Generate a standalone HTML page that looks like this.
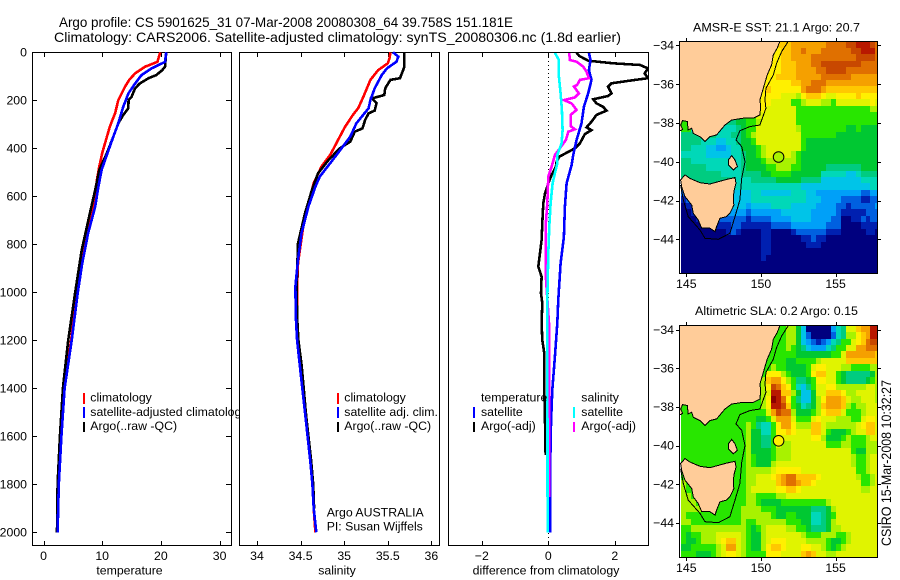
<!DOCTYPE html>
<html lang="en">
<head>
<meta charset="utf-8">
<title>Argo profile chart</title>
<style>
html,body{margin:0;padding:0;background:#fff;}
svg{display:block;font-family:"Liberation Sans",sans-serif;font-size:12.3px;fill:#000;}
.crisp{shape-rendering:crispEdges;}
</style>
</head>
<body>
<svg id="chart" xmlns="http://www.w3.org/2000/svg" width="900" height="580" viewBox="0 0 900 580">
<rect x="0" y="0" width="900" height="580" fill="#fff"/>
<text x="59" y="27" font-size="14" textLength="454" lengthAdjust="spacingAndGlyphs">Argo profile: CS 5901625_31 07-Mar-2008 20080308_64 39.758S 151.181E</text>
<text x="54" y="42" font-size="14" textLength="567" lengthAdjust="spacingAndGlyphs">Climatology: CARS2006. Satellite-adjusted climatology: synTS_20080306.nc (1.8d earlier)</text>

<g id="p1">
<g id="p1m"></g>
<rect class="crisp" x="83" y="393" width="2" height="11" fill="#f00"/>
<rect class="crisp" x="83" y="407" width="2" height="11" fill="#00f"/>
<rect class="crisp" x="83" y="422" width="2" height="10" fill="#000"/>
<text x="90.3" y="401.7">climatology</text>
<text x="90.3" y="416">satellite-adjusted climatology</text>
<text x="90.3" y="430">Argo(..raw -QC)</text>
<text x="129.5" y="574.5" text-anchor="middle">temperature</text>
</g>

<g id="p2">
<g id="p2m"></g>
<rect class="crisp" x="337" y="393" width="2" height="11" fill="#f00"/>
<rect class="crisp" x="337" y="407" width="2" height="11" fill="#00f"/>
<rect class="crisp" x="337" y="422" width="2" height="10" fill="#000"/>
<text x="344.3" y="401.7">climatology</text>
<text x="344.3" y="416">satellite adj. clim.</text>
<text x="344.3" y="430">Argo(..raw -QC)</text>
<text x="326.7" y="516.7">Argo AUSTRALIA</text>
<text x="326.7" y="530.7">PI: Susan Wijffels</text>
<text x="337" y="574.5" text-anchor="middle">salinity</text>
</g>

<g id="p3">
<g id="p3m"></g>
<text x="481" y="401.7">temperature</text>
<text x="481" y="416">satellite</text>
<text x="481" y="430">Argo(-adj)</text>
<rect class="crisp" x="473" y="407" width="2" height="11" fill="#00f"/>
<rect class="crisp" x="473" y="422" width="2" height="10" fill="#000"/>
<text x="581.3" y="401.7">salinity</text>
<text x="581.3" y="416">satellite</text>
<text x="581.3" y="430">Argo(-adj)</text>
<rect class="crisp" x="573" y="407" width="2" height="11" fill="#0ff"/>
<rect class="crisp" x="573" y="422" width="2" height="10" fill="#f0f"/>
<text x="546" y="574.5" text-anchor="middle">difference from climatology</text>
</g>

<g id="m1"></g>
<g id="m2"></g>
<text x="693" y="31.7" textLength="167" lengthAdjust="spacingAndGlyphs">AMSR-E SST: 21.1 Argo: 20.7</text>
<text x="695" y="315" textLength="163" lengthAdjust="spacingAndGlyphs">Altimetric SLA: 0.2 Argo: 0.15</text>
<text transform="translate(891,546) rotate(-90)" font-size="14" textLength="166" lengthAdjust="spacingAndGlyphs">CSIRO 15-Mar-2008 10:32:27</text>
</svg>
<script>
// ---------- profile axis ticks ----------
const depthTicks = [0,200,400,600,800,1000,1200,1400,1600,1800,2000];
const tempTicks = [0,10,20,30];
const salTicks = [34,34.5,35,35.5,36];
const diffTicks = [-2,0,2];
const salTickLabels = ['34','34.5','35','35.5','36'];
const diffTickLabels = ['\u22122','0','2'];

// ---------- temperature profiles ----------
const climTDepth = [0,40,60,88,115,143,199,254,310,365,420,476,532,615,754,893,1000,1200,1400,1600,1800,2000];
const climT = [19.9,19.4,17.3,15.6,14.6,13.9,12.75,12.2,11.3,10.65,10,9.5,9.1,8.7,7.5,6.4,5.7,4.7,3.55,3.04,2.5,2.3];
const satTDepth = [0,40,67,95,130,170,226,296,351,420,490,560,643,754,880,1000,1200,1400,1600,1800,2000];
const satT = [20.9,20.7,18.4,16.7,15.6,14.5,13.6,12.75,11.9,10.9,9.9,9.35,8.8,7.6,6.6,5.85,4.8,3.6,3.05,2.6,2.4];
const argoTDepth = [0,60,75,95,108,130,150,185,199,233,261,296,351,420,490,574,670,824,1000,1200,1400,1600,1800,2000];
const argoT = [20.9,20.7,20.2,19.2,17.9,16.4,15.6,15,14.5,14.45,13.6,12.75,11.9,10.8,9.5,8.8,7.9,6.5,5.4,4.2,3.3,2.8,2.4,2.3];

// ---------- salinity profiles ----------
const climSDepth = [0,25,46,74,115,185,233,261,310,365,428,476,546,629,726,879,976,1100,1200,1300,1400,1500,1600,1700,1800,1900,2000];
const climS = [35.53,35.52,35.5,35.39,35.3,35.22,35.16,35.1,35.01,34.93,34.84,34.74,34.65,34.59,34.53,34.47,34.46,34.46,34.465,34.5,34.525,34.55,34.58,34.61,34.635,34.65,34.67];
const satSDepth = [0,18,39,67,95,150,199,233,296,351,400,462,518,560,643,754,865,976,1100,1200,1300,1400,1500,1600,1700,1800,1900,2000];
const satS = [35.56,35.62,35.6,35.49,35.43,35.35,35.3,35.28,35.14,35.07,34.97,34.84,34.72,34.67,34.59,34.51,34.47,34.44,34.445,34.46,34.49,34.52,34.55,34.58,34.61,34.635,34.65,34.68];
const argoSDepth = [0,60,80,108,115,150,178,192,212,243,254,282,317,331,372,400,449,504,574,671,796,976,1100,1200,1300,1400,1500,1600,1700,1800,1900];
const argoS = [35.69,35.69,35.67,35.64,35.53,35.47,35.46,35.32,35.37,35.35,35.28,35.24,35.21,35.12,35.07,34.95,34.82,34.7,34.63,34.55,34.47,34.455,34.46,34.475,34.51,34.535,34.56,34.59,34.62,34.645,34.655];

// ---------- difference-from-climatology profiles ----------
const diffArgoTDepth = [2,15,35,46,53,67,88,108,118,129,143,171,182,196,213,227,243,261,289,313,324,341,379,400,435,456,477,511,546,588,629,685,782,893,935,1004,1046,1129,1199,1254,1407,1532,1678];
const diffArgoT = [0.85,0.93,1.2,1.95,2.76,3.0,2.9,3.0,2.46,1.9,1.8,1.9,1.8,1.35,1.45,1.65,1.75,1.45,1.3,1.15,1.3,1.1,0.95,0.8,0.33,0.25,0.23,0.1,0,-0.1,-0.15,-0.17,-0.2,-0.3,-0.2,-0.22,-0.18,-0.2,-0.18,-0.12,-0.12,-0.1,-0.08];
const diffSatTDepth = [2,32,74,115,171,227,296,365,428,470,546,643,768,879,1029,1129,1268,1407,1546,1768,2000];
const diffSatT = [1.22,1.27,1.22,1.3,1.2,1.07,1,0.85,0.75,0.7,0.55,0.5,0.47,0.37,0.3,0.27,0.2,0.12,0.08,0.05,0.05];
const diffSatSDepth = [2,32,101,171,240,324,379,428,463,504,546,629,726,837,1029,2000];
const diffSatS = [0.2,0.32,0.32,0.37,0.41,0.43,0.4,0.27,0.27,0.2,0.13,0.07,0.03,0,-0.03,-0.02];
const diffArgoSDepth = [2,32,39,60,81,108,115,136,143,171,188,199,213,240,261,307,321,331,365,400,428,477,518,629,726,921,1129,1268,1407,1546,1852];
const diffArgoS = [0.63,0.65,0.85,1.05,1.15,1.22,0.95,0.87,0.77,0.92,0.8,0.47,0.7,0.85,0.67,0.67,0.8,0.6,0.53,0.35,0.2,0.1,0,-0.03,-0.08,-0.08,0.02,0.03,0.03,0.02,0.03];

// ---------- map data ----------
const lonTicks = [145,150,155];
const latTicks = [-34,-36,-38,-40,-42,-44];
const floatLon = 151.181;
const floatLat = -39.758;
const floatSstLevel = 9;
const floatSlaLevel = 11;
const colorScale = ['#00007f','#0020b0','#0060e0','#00a0f8','#00c4e8','#00d8b8','#00cc80','#00c832','#28e600','#a8f200','#e0f400','#fff000','#ffc800','#f5a000','#e07000','#c84800','#b81800','#8c0000'];

// colour-scale levels, 36 rows x 40 columns; land polygons are painted over the coastal cells
const sstLevels = [
[12,12,12,12,12,12,12,12,12,12,12,12,12,12,12,12,12,12,12,12,12,12,13,13,13,13,13,13,13,14,14,14,14,15,15,16,16,16,15,14],
[11,11,11,11,11,11,11,11,11,11,11,11,11,11,11,11,11,11,11,11,12,12,13,13,14,13,13,13,14,14,14,14,14,14,15,15,16,16,16,14],
[11,11,11,11,11,11,11,11,11,11,11,11,11,11,11,11,11,11,11,11,12,12,13,13,13,13,14,14,14,14,14,14,14,14,14,15,15,15,15,14],
[11,11,11,11,11,11,11,11,11,11,11,11,11,11,11,11,11,11,11,11,12,12,12,13,13,13,14,14,15,15,15,15,15,15,15,15,14,14,14,14],
[11,11,11,11,11,11,11,11,11,11,11,11,11,11,11,11,11,11,11,11,12,12,12,13,13,13,13,14,14,15,15,15,15,14,14,14,14,14,14,14],
[11,11,11,11,11,11,11,11,11,11,11,11,11,11,11,11,11,11,11,12,12,12,12,13,13,13,13,13,14,14,14,14,14,14,13,13,13,13,13,13],
[11,11,11,11,11,11,11,11,11,11,11,11,11,11,11,11,11,11,11,11,11,11,12,12,13,13,14,14,14,13,13,13,13,13,13,13,13,13,13,13],
[11,11,11,11,11,11,11,11,11,11,11,11,11,11,11,11,11,12,11,11,11,11,11,11,13,14,14,14,13,12,12,12,12,12,12,12,12,12,12,12],
[10,10,10,10,10,10,10,10,10,10,10,10,10,10,10,10,11,11,11,11,10,10,10,9,11,12,12,12,11,10,10,11,11,11,11,12,11,11,11,11],
[10,10,10,10,10,10,10,10,10,10,10,10,10,10,10,10,11,11,10,10,10,10,8,8,9,10,10,10,9,9,8,10,10,10,10,10,10,10,11,10],
[10,10,10,10,10,10,10,10,10,10,10,10,10,10,10,10,11,10,10,10,10,10,10,8,8,8,8,8,8,8,8,8,8,8,8,8,8,8,9,9],
[8,8,8,8,8,8,8,8,8,8,8,8,8,8,8,10,10,10,10,10,10,10,10,8,8,8,8,8,8,8,8,8,8,8,8,8,8,8,8,8],
[8,8,6,6,6,6,6,6,6,6,6,7,7,8,8,9,10,10,10,10,10,10,10,8,8,8,8,8,8,8,8,8,8,8,8,8,8,8,8,8],
[8,8,5,5,5,5,5,5,5,5,5,6,7,8,8,10,10,10,10,10,10,10,10,9,8,8,8,8,8,8,8,8,8,7,7,8,7,7,7,7],
[6,6,6,6,6,6,6,5,5,5,6,6,7,8,9,10,10,10,10,10,10,10,10,10,8,8,8,8,8,8,8,7,7,7,7,7,7,7,7,7],
[6,6,6,6,5,5,5,4,4,5,5,6,7,7,8,10,10,10,10,10,10,10,10,10,8,7,7,7,7,7,7,7,7,7,7,7,7,7,7,7],
[6,6,5,5,5,4,4,3,3,4,5,5,7,7,7,8,9,10,10,10,10,10,10,10,8,7,7,7,7,7,7,7,7,7,7,7,7,7,7,7],
[5,5,5,5,5,4,4,4,4,4,5,5,6,7,7,8,9,10,10,10,10,10,9,8,7,7,7,7,7,7,7,7,7,7,7,7,7,7,7,7],
[6,6,5,5,5,5,5,5,5,5,5,5,6,7,7,7,8,9,9,9,9,9,9,8,7,7,7,7,7,7,7,7,7,7,7,7,7,7,7,7],
[6,6,6,6,6,5,5,5,5,5,5,5,6,7,7,7,7,8,8,9,9,9,8,8,7,7,7,7,7,6,6,6,6,6,6,6,7,7,7,7],
[6,6,6,6,6,6,6,6,5,5,5,5,6,6,6,6,7,7,8,8,8,8,7,7,7,7,7,7,5,5,5,5,5,4,4,5,6,6,6,6],
[6,6,6,6,6,6,6,6,6,6,6,5,5,5,6,6,6,6,6,7,7,7,7,7,6,6,6,6,4,4,4,4,4,4,4,4,5,5,5,5],
[5,5,5,5,5,5,5,5,5,5,5,5,5,5,5,5,5,5,5,5,5,5,5,5,4,4,4,4,4,4,4,4,4,4,4,4,4,4,5,5],
[2,4,4,4,4,4,4,4,4,4,4,4,4,4,5,5,4,4,4,4,4,4,5,5,5,4,4,3,3,3,3,3,3,3,3,3,2,2,3,3],
[1,2,4,4,4,4,4,4,4,4,4,4,4,4,5,5,5,5,5,5,5,5,5,5,5,4,4,4,3,3,3,3,2,2,2,2,1,1,2,2],
[0,1,1,3,3,3,3,4,4,4,4,4,4,3,4,4,4,4,5,5,5,5,4,4,4,4,4,3,3,3,3,2,2,1,2,2,2,2,2,3],
[0,0,1,1,3,3,3,3,3,3,3,3,3,2,3,3,3,3,3,3,4,4,4,4,4,4,3,3,3,3,3,2,1,1,1,1,1,2,2,2],
[0,0,0,1,1,2,2,2,2,2,2,2,2,1,2,2,2,2,3,3,3,3,4,4,4,4,3,3,3,3,2,2,0,0,1,1,2,1,2,2],
[0,0,0,0,0,0,1,1,1,1,2,2,1,1,1,1,1,1,2,2,2,2,3,3,3,3,3,3,3,2,2,2,0,0,0,0,1,1,1,1],
[0,0,0,0,0,0,0,0,0,1,2,1,0,0,0,0,1,1,0,0,0,0,1,2,2,2,2,2,2,1,1,1,0,0,0,0,0,1,1,0],
[0,0,0,0,0,0,0,0,0,0,0,0,0,0,0,0,1,1,0,0,0,0,0,0,1,1,2,1,1,0,0,0,0,0,0,0,0,0,0,0],
[0,0,0,0,0,0,0,0,0,0,0,0,0,0,0,0,1,1,0,0,0,0,0,0,0,1,1,1,0,0,0,0,0,0,0,0,0,0,0,0],
[0,0,0,0,0,0,0,0,0,0,0,0,0,0,0,0,1,1,0,0,0,0,0,0,0,0,0,0,0,0,0,0,0,0,0,0,0,0,0,0],
[0,0,0,0,0,0,0,0,0,0,0,0,0,0,0,0,1,0,0,0,0,0,0,0,0,0,0,0,0,0,0,0,0,0,0,0,0,0,0,0],
[0,0,0,0,0,0,0,0,0,0,0,0,0,0,0,0,0,0,0,0,0,0,0,0,0,0,0,0,0,0,0,0,0,0,0,0,0,0,0,0],
[0,0,0,0,0,0,0,0,0,0,0,0,0,0,0,0,0,0,0,0,0,0,0,0,0,0,0,0,0,0,0,0,0,0,0,0,0,0,0,0]
];
const slaLevels = [
[8,8,8,8,8,8,8,8,8,8,8,8,8,8,8,8,8,8,8,8,8,9,9,7,4,0,0,0,0,0,3,5,6,10,10,12,13,13,16,16],
[8,8,8,8,8,8,8,8,8,8,8,8,8,8,8,8,8,8,8,8,8,9,9,7,4,2,0,0,0,0,2,5,6,9,9,11,12,13,16,16],
[8,8,8,8,8,8,8,8,8,8,8,8,8,8,8,8,8,8,8,8,8,9,9,7,4,3,2,1,2,3,5,6,8,8,10,11,12,14,15,15],
[8,8,8,8,8,8,8,8,8,8,8,8,8,8,8,8,8,8,8,8,8,9,8,7,6,4,3,3,3,5,6,8,8,10,10,13,13,14,14,14],
[8,8,8,8,8,8,8,8,8,8,8,8,8,8,8,8,8,8,8,8,8,8,8,7,7,7,7,7,7,7,8,8,10,13,13,13,13,13,13,12],
[8,8,8,8,8,8,8,8,8,8,8,8,8,8,8,8,8,8,8,8,8,7,7,8,8,8,8,9,10,10,10,10,10,12,12,12,12,12,12,12],
[8,8,8,8,8,8,8,8,8,8,8,8,8,8,8,8,8,8,9,8,8,7,7,7,7,8,10,11,11,10,10,10,9,9,8,8,8,8,9,9],
[8,8,8,8,8,8,8,8,8,8,8,8,8,8,8,8,8,11,11,11,9,8,7,7,7,8,11,12,12,10,10,8,7,6,6,6,6,6,7,9],
[8,8,8,8,8,8,8,8,8,8,8,8,8,8,8,8,9,12,13,13,11,9,8,6,6,7,8,11,11,10,10,8,7,6,6,6,6,7,8,9],
[8,8,8,8,8,8,8,8,8,8,8,8,8,8,8,8,9,11,15,14,12,11,8,5,4,6,8,10,10,11,11,9,9,9,9,9,9,10,10,9],
[8,8,8,8,8,8,8,8,8,8,8,8,8,8,8,8,9,10,16,16,12,12,9,7,4,4,7,10,10,12,12,12,11,9,9,10,10,10,10,9],
[8,8,8,8,8,8,8,8,8,8,8,8,8,8,8,8,9,11,17,16,14,11,8,6,4,4,7,9,11,13,13,13,12,10,9,9,10,10,10,9],
[8,8,8,8,8,8,8,8,8,8,8,8,8,8,8,8,9,11,16,16,15,12,8,7,5,6,7,9,12,13,13,13,12,9,8,9,9,10,10,10],
[8,8,8,8,8,8,8,8,8,8,8,8,8,8,8,8,8,10,13,15,14,14,9,7,7,7,8,9,11,12,12,12,10,8,8,8,9,10,10,10],
[8,8,8,8,8,8,8,8,8,8,8,8,8,8,8,7,7,8,10,13,13,13,10,8,8,8,10,11,10,10,10,9,9,9,8,8,10,11,11,10],
[8,8,8,8,8,8,8,8,8,8,8,8,8,9,8,6,5,5,8,11,13,13,11,9,9,9,12,12,10,9,9,9,9,9,9,10,11,12,12,10],
[8,8,8,8,8,8,8,8,8,8,8,8,8,9,7,7,5,5,8,11,11,12,11,10,10,10,12,12,10,8,7,7,7,8,9,10,10,12,12,10],
[8,8,8,8,8,8,8,8,8,8,8,8,8,9,7,7,6,6,8,10,10,10,10,10,10,10,11,11,9,7,7,7,8,9,8,8,8,9,10,10],
[8,8,8,8,8,8,8,8,8,8,8,8,8,9,7,7,6,6,8,10,9,9,10,10,10,10,10,10,10,8,8,8,9,9,8,8,8,9,9,9],
[8,8,8,8,8,8,8,8,8,8,8,8,8,9,7,7,7,7,8,9,9,9,10,10,10,10,10,10,10,10,10,10,10,10,8,7,7,9,9,9],
[8,8,8,8,8,8,8,8,8,8,8,8,8,9,8,7,7,7,8,9,9,9,10,10,10,10,10,10,10,10,10,10,10,10,9,8,8,9,10,10],
[8,8,8,8,8,8,8,8,8,8,8,8,8,9,8,7,7,7,9,10,10,10,10,10,10,10,10,10,10,10,10,10,10,10,9,8,8,9,10,10],
[8,8,8,8,8,8,8,8,8,8,8,8,8,9,9,9,9,9,10,11,11,11,11,11,10,10,10,10,10,10,10,10,10,10,10,8,8,9,10,10],
[8,8,8,8,8,8,8,8,8,8,8,8,8,9,9,10,10,10,11,12,13,14,14,12,12,12,12,11,10,10,10,10,10,10,10,9,8,8,9,10],
[9,8,8,8,8,8,8,8,8,8,8,8,8,9,9,10,10,10,10,12,13,14,14,13,12,12,11,10,10,10,10,10,10,10,10,10,8,8,9,10],
[9,8,8,8,8,8,8,8,8,8,8,8,8,9,10,10,10,10,10,11,11,12,12,11,10,10,10,10,10,10,10,10,10,10,10,10,9,9,10,10],
[9,9,8,8,8,8,8,8,8,8,8,8,8,9,9,8,8,8,8,9,9,10,10,10,10,10,10,10,10,10,10,10,10,10,10,10,10,10,10,10],
[9,9,9,8,8,8,8,8,8,8,8,8,8,9,9,8,7,7,7,7,8,8,8,8,8,8,8,8,8,9,10,10,10,10,10,10,10,10,10,10],
[9,9,9,9,8,8,8,8,8,8,8,8,9,9,9,9,8,8,8,7,7,7,7,7,7,7,6,6,6,7,9,10,10,10,10,10,10,10,10,10],
[9,8,8,8,8,8,8,8,8,8,8,8,9,9,9,9,9,9,8,7,7,8,8,7,7,7,5,5,6,7,8,10,10,10,10,10,10,10,10,10],
[9,9,8,8,8,8,8,8,8,8,8,8,9,8,8,9,9,9,9,9,9,8,8,8,7,7,5,5,6,7,9,10,10,10,10,10,10,10,10,10],
[8,8,9,9,9,9,9,9,9,9,9,9,9,8,7,8,9,10,10,10,10,9,9,8,8,7,6,6,6,7,9,9,10,10,10,10,10,10,10,10],
[8,7,8,8,9,9,9,10,10,10,10,10,9,8,7,7,9,10,10,10,10,10,10,10,9,8,8,8,9,9,9,8,8,9,10,10,10,10,10,10],
[8,7,7,8,9,9,9,10,11,12,12,10,9,8,7,7,9,10,11,11,11,10,10,10,10,9,9,9,9,8,7,7,8,9,10,10,10,10,10,10],
[7,7,8,8,8,8,8,9,10,13,13,10,9,8,7,7,9,11,12,12,11,10,10,10,11,11,10,10,9,8,7,8,9,10,10,10,10,10,10,10],
[8,8,8,7,7,7,8,9,10,11,11,10,9,8,8,8,8,11,11,11,10,10,10,10,12,13,12,10,10,9,9,10,10,10,10,10,10,10,10,10]
];

// coast outlines in degrees [lon, lat]
const mainlandCoast = [[151.27,-33.79],[151.09,-34.15],[150.83,-34.5],[150.71,-35.01],[150.42,-35.53],[150.16,-36.22],[149.93,-36.82],[149.98,-37.16],[149.93,-37.59],[149.49,-37.76],[148.82,-37.76],[148.04,-37.85],[147.59,-38.11],[147.03,-38.62],[146.58,-38.71],[146.25,-38.97],[145.92,-38.71],[145.47,-38.54],[145.36,-38.28],[145.13,-38.36],[145.07,-37.93],[144.75,-37.88],[144.62,-38.11],[144.75,-38.33],[144.62,-38.4],[144.49,-38.4],[144.49,-33.79]];
const tasmaniaCoast = [[144.62,-40.94],[144.91,-40.68],[145.25,-40.86],[145.92,-41.08],[146.58,-41.15],[147.14,-41.03],[147.7,-40.91],[148.26,-40.82],[148.33,-41.11],[148.19,-41.54],[148.15,-41.97],[148.19,-42.23],[147.92,-42.66],[147.7,-42.83],[147.25,-42.92],[147.03,-43.35],[146.92,-43.6],[146.58,-43.43],[146.03,-43.43],[145.8,-43],[145.47,-42.66],[145.36,-42.23],[144.91,-41.8],[144.69,-41.29]];
const flindersCoast = [[147.81,-39.91],[148.04,-39.69],[148.26,-39.91],[148.42,-40.25],[148.15,-40.43],[147.81,-40.17]];
const isobathLine = [[151.83,-33.79],[151.38,-34.33],[151.05,-34.93],[150.83,-35.53],[150.33,-36.22],[150.27,-36.82],[150.33,-37.25],[149.93,-38.11],[149.26,-38.19],[148.59,-38.4],[148.33,-38.88],[148.71,-39.22],[148.93,-40],[148.71,-40.86],[148.59,-41.97],[148.26,-42.83],[147.92,-43.69],[147.14,-44],[146.25,-43.95],[145.92,-43.52],[145.13,-42.83],[144.8,-41.97],[144.62,-41.2]];

// ---------- scales ----------
const NS = 'http://www.w3.org/2000/svg';
const depthY = d => 52.3 + 0.24 * d;
const tempX = v => 43.5 + 5.87 * v;
const salX = v => 257 + 87.2 * (v - 34);
const diffX = v => 548.3 + 33.25 * v;
const lonX = l => 686.3 + (l - 145) * 14.93;
const latY1 = l => 45.3 + (-34 - l) * 19.4;
const latY2 = l => 329.7 + (-34 - l) * 19.3;

function make(parent, tag, attrs, text) {
  const el = document.createElementNS(NS, tag);
  for (const k in attrs) el.setAttribute(k, attrs[k]);
  if (text !== undefined) el.textContent = text;
  parent.appendChild(el);
  return el;
}

// ---------- profile panels ----------
function drawFrame(g, L, R, T, B) {
  const bg = make(g, 'rect', {x: L, y: T, width: R - L, height: B - T, fill: '#fff'});
  
  
  const frame = make(g, 'rect', {x: L + .5, y: T + .5, width: R - L, height: B - T, fill: 'none', stroke: '#000', 'stroke-width': 1, class: 'crisp'});
  
  
}
function drawXAxis(g, ticks, labels, sx, T, B) {
  ticks.forEach((v, i) => {
    const x = Math.round(sx(v)) + .5;
    const t1 = make(g, 'line', {x1: x, x2: x, y1: T, y2: T + 5, stroke: '#000', class: 'crisp'});
    
    
    const t2 = make(g, 'line', {x1: x, x2: x, y1: B, y2: B - 4, stroke: '#000', class: 'crisp'});
    
    
    const lab = make(g, 'text', {x: sx(v), y: 560, 'text-anchor': 'middle'}, labels[i]);
    
    
  });
}
function drawSeries(g, values, depths, sx, color, name) {
  const pts = values.map((v, i) => sx(v).toFixed(1) + ',' + depthY(depths[i]).toFixed(1)).join(' ');
  const line = make(g, 'polyline', {points: pts, fill: 'none', stroke: color, 'stroke-width': 2.6, 'stroke-linejoin': 'miter', class: 'crisp'});
  
  
}

const p1 = document.getElementById('p1m');
drawFrame(p1, 32, 231, 52, 545);
drawXAxis(p1, tempTicks, tempTicks.map(String), tempX, 52, 545);
depthTicks.forEach(d => {
  const y = Math.round(depthY(d)) + .5;
  const a = make(p1, 'line', {x1: 32, x2: 37, y1: y, y2: y, stroke: '#000', class: 'crisp'});
  
  
  const b = make(p1, 'line', {x1: 231, x2: 226, y1: y, y2: y, stroke: '#000', class: 'crisp'});
  
  
  const lab = make(p1, 'text', {x: 27, y: depthY(d) + 4.2, 'text-anchor': 'end'}, String(d));
  
  
});
drawSeries(p1, climT, climTDepth, tempX, '#f00', 'series-temperature-climatology');
drawSeries(p1, argoT, argoTDepth, tempX, '#000', 'series-temperature-argo');
drawSeries(p1, satT, satTDepth, tempX, '#00f', 'series-temperature-satellite');

const p2 = document.getElementById('p2m');
drawFrame(p2, 239, 439, 52, 545);
drawXAxis(p2, salTicks, salTickLabels, salX, 52, 545);
drawSeries(p2, climS, climSDepth, salX, '#f00', 'series-salinity-climatology');
drawSeries(p2, argoS, argoSDepth, salX, '#000', 'series-salinity-argo');
drawSeries(p2, satS, satSDepth, salX, '#00f', 'series-salinity-satellite');

const p3 = document.getElementById('p3m');
drawFrame(p3, 448, 648, 52, 545);
drawXAxis(p3, diffTicks, diffTickLabels, diffX, 52, 545);
const clip3 = make(p3, 'clipPath', {id: 'clipDiff'});


make(clip3, 'rect', {x: 449, y: 53, width: 199, height: 492});
const p3c = make(p3, 'g', {'clip-path': 'url(#clipDiff)'});


const zeroX = Math.round(diffX(0)) + .5;
const zeroLine = make(p3c, 'line', {x1: zeroX, x2: zeroX, y1: 53, y2: 545, stroke: '#000', 'stroke-dasharray': '1 3', class: 'crisp'});


drawSeries(p3c, diffArgoT, diffArgoTDepth, diffX, '#000', 'series-diff-temperature-argo');
drawSeries(p3c, diffSatT, diffSatTDepth, diffX, '#00f', 'series-diff-temperature-satellite');
drawSeries(p3c, diffArgoS, diffArgoSDepth, diffX, '#f0f', 'series-diff-salinity-argo');
drawSeries(p3c, diffSatS, diffSatSDepth, diffX, '#0ff', 'series-diff-salinity-satellite');

// ---------- maps ----------
function coastPts(list, latY) {
  return list.map(p => lonX(p[0]).toFixed(1) + ',' + latY(p[1]).toFixed(1)).join(' ');
}
function drawMap(g, id, grid, latY, T, B, xLabelY, floatLevel, cellName) {
  const L = 679, R = 877;
  const clip = make(g, 'clipPath', {id: id});
  
  
  make(clip, 'rect', {x: L, y: T, width: R - L, height: B - T});
  const body = make(g, 'g', {'clip-path': 'url(#' + id + ')'});
  
  
  const lonStart = 144.67, latStart = -33.79, step = 1 / 3;
  grid.forEach((row, r) => {
    row.forEach((level, c) => {
      const x0 = Math.round(lonX(lonStart + c * step)), x1 = Math.round(lonX(lonStart + (c + 1) * step));
      const y0 = Math.round(latY(latStart - r * step)), y1 = Math.round(latY(latStart - (r + 1) * step));
      const cell = make(body, 'rect', {x: x0, y: y0, width: x1 - x0, height: y1 - y0, fill: colorScale[level], class: 'crisp'});
      
      
    });
  });
  const land1 = make(body, 'polygon', {points: coastPts(mainlandCoast, latY), fill: '#ffcc99', stroke: '#000', class: 'crisp'});
  
  
  const land2 = make(body, 'polygon', {points: coastPts(tasmaniaCoast, latY), fill: '#ffcc99', stroke: '#000', class: 'crisp'});
  
  
  const land3 = make(body, 'polygon', {points: coastPts(flindersCoast, latY), fill: '#ffcc99', stroke: '#000', class: 'crisp'});
  
  
  const iso = make(body, 'polyline', {points: coastPts(isobathLine, latY), fill: 'none', stroke: '#000', class: 'crisp'});
  
  
  const marker = make(body, 'circle', {cx: lonX(floatLon), cy: latY(floatLat), r: 5.3, fill: colorScale[floatLevel], stroke: '#000'});
  
  
  const frame = make(g, 'rect', {x: L + .5, y: T + .5, width: R - L, height: B - T, fill: 'none', stroke: '#000', class: 'crisp'});
  
  
  lonTicks.forEach(l => {
    const x = Math.round(lonX(l)) + .5;
    const top = make(g, 'line', {x1: x, x2: x, y1: T, y2: T - 3, stroke: '#000', class: 'crisp'});
    
    
    const bottom = make(g, 'line', {x1: x, x2: x, y1: B + 1, y2: B + 4, stroke: '#000', class: 'crisp'});
    
    
    const lab = make(g, 'text', {x: lonX(l), y: xLabelY, 'text-anchor': 'middle'}, String(l));
    
    
  });
  latTicks.forEach(l => {
    const y = Math.round(latY(l)) + .5;
    const left = make(g, 'line', {x1: L, x2: L - 3, y1: y, y2: y, stroke: '#000', class: 'crisp'});
    
    
    const right = make(g, 'line', {x1: R + 1, x2: R + 4, y1: y, y2: y, stroke: '#000', class: 'crisp'});
    
    
    const lab = make(g, 'text', {x: 674, y: latY(l) + 4.2, 'text-anchor': 'end'}, '\u2212' + Math.abs(l));
    
    
  });
}
drawMap(document.getElementById('m1'), 'clipM1', sstLevels, latY1, 41, 273, 288, floatSstLevel, 'sst-cell');
drawMap(document.getElementById('m2'), 'clipM2', slaLevels, latY2, 325, 557, 572, floatSlaLevel, 'sla-cell');
</script>
</body>
</html>
